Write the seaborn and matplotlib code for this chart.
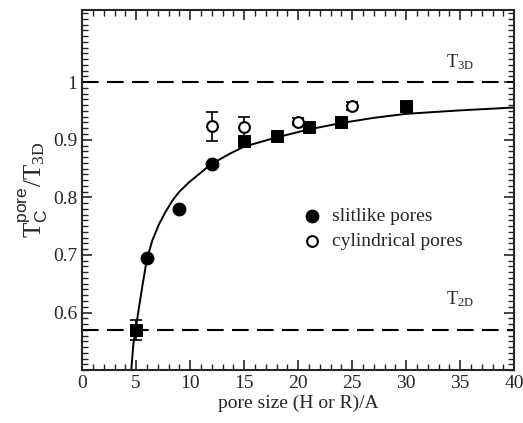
import matplotlib
matplotlib.use("Agg")
import matplotlib.pyplot as plt
import matplotlib.ticker as mticker
import seaborn as sns
import pandas as pd

# slitlike pores, circles without error bars
slit_x = [6, 9, 12]
slit_y = [0.695, 0.779, 0.858]

# slitlike pores, squares with error bars
sq_x = [5, 15, 18, 21, 24, 30]
sq_y = [0.570, 0.897, 0.906, 0.922, 0.931, 0.958]
sq_err = [0.017, 0.009, 0.007, 0.007, 0.007, 0.008]

# cylindrical pores
cyl_x = [12, 15, 20, 25]
cyl_y = [0.923, 0.922, 0.931, 0.958]
cyl_err = [0.026, 0.017, 0.006, 0.007]

# fitted curve
fit_x = [4.55, 4.74, 4.95, 5.26, 5.57, 6.0, 6.5, 7.11, 7.73, 8.35, 8.96, 9.89,
         10.8, 11.9, 13.7, 15, 18, 21, 24, 27, 30, 35, 40]
fit_y = [0.50, 0.544, 0.570, 0.608, 0.645, 0.693, 0.725, 0.753, 0.775, 0.794,
         0.809, 0.826, 0.840, 0.857, 0.876, 0.888, 0.904, 0.918, 0.929, 0.938,
         0.945, 0.951, 0.956]

T3D = 1.0
T2D = 0.57

sns.set_style("ticks")
plt.rcParams['font.family'] = ['Liberation Serif', 'DejaVu Serif']
plt.rcParams['mathtext.fontset'] = 'custom'
plt.rcParams['mathtext.rm'] = 'Liberation Serif'
plt.rcParams['mathtext.it'] = 'Liberation Serif:italic'
plt.rcParams['mathtext.sf'] = 'Liberation Sans'

fig = plt.figure(figsize=(5.23, 4.23), dpi=100)
ax = fig.add_axes([0.157, 0.125, 0.826, 0.851])

dash = (8, 4)
ax.axhline(T3D, color='black', lw=1.5, dashes=dash, zorder=1)
ax.axhline(T2D, color='black', lw=1.5, dashes=dash, zorder=1)

fit_df = pd.DataFrame({'x': fit_x, 'y': fit_y})
sns.lineplot(data=fit_df, x='x', y='y', color='black', lw=1.4, ax=ax, sort=False, zorder=2)

ax.errorbar(sq_x, sq_y, yerr=sq_err, fmt='none', ecolor='black', elinewidth=1.2,
            capsize=4, capthick=1.2, zorder=3)
ax.errorbar(cyl_x, cyl_y, yerr=cyl_err, fmt='none', ecolor='black', elinewidth=1.2,
            capsize=4, capthick=1.2, zorder=3)

sns.scatterplot(x=sq_x, y=sq_y, marker='s', s=70, color='black', edgecolor='black',
                ax=ax, zorder=4)
sns.scatterplot(x=slit_x, y=slit_y, marker='o', s=85, color='black', edgecolor='black',
                ax=ax, zorder=4, label='slitlike pores')
sns.scatterplot(x=cyl_x, y=cyl_y, marker='o', s=60, facecolor='white', edgecolor='black',
                linewidth=1.5, ax=ax, zorder=4, label='cylindrical pores')

ax.text(35, 1.035, 'T$_\\mathrm{3D}$', fontsize=13, ha='center', va='center')
ax.text(35, 0.623, 'T$_\\mathrm{2D}$', fontsize=13, ha='center', va='center')

ax.set_xlim(0, 40)
ax.set_ylim(0.5, 1.125)
ax.set_xticks(range(0, 41, 5))
ax.xaxis.set_minor_locator(mticker.MultipleLocator(1))
ax.set_yticks([0.6, 0.7, 0.8, 0.9, 1.0])
ax.set_yticklabels(['0.6', '0.7', '0.8', '0.9', '1'])
ax.yaxis.set_minor_locator(mticker.MultipleLocator(0.01))
ax.tick_params(which='both', direction='in', top=True, right=True, labelsize=14)
ax.tick_params(which='major', length=7, width=1.2)
ax.tick_params(which='minor', length=4, width=1)
for sp in ax.spines.values():
    sp.set_linewidth(1.5)

ax.set_xlabel('pore size (H or R)/A', fontsize=14, labelpad=2)
ax.set_ylabel('T$_\\mathsf{C}^\\mathsf{pore}$/T$_\\mathrm{3D}$', fontsize=18, labelpad=2)

ax.legend(loc='upper left', bbox_to_anchor=(0.475, 0.48), frameon=False, fontsize=14,
          handletextpad=0.3, borderpad=0, labelspacing=0.4, handlelength=1.5)

fig.savefig('out.png', dpi=100)
